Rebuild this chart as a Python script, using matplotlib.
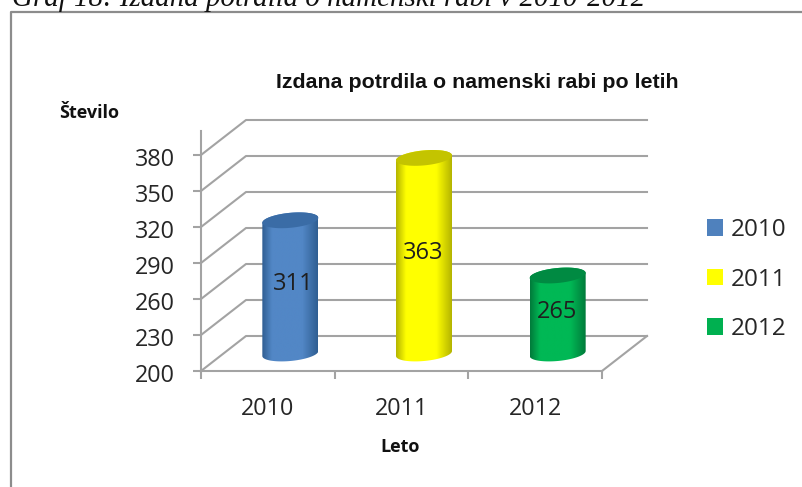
import matplotlib
matplotlib.use('Agg')
import matplotlib.pyplot as plt
from matplotlib.colors import LinearSegmentedColormap
from matplotlib.lines import Line2D
from matplotlib.patches import Patch, Polygon
from matplotlib.transforms import ScaledTranslation
import numpy as np

years = ['2010', '2011', '2012']
values = [311, 363, 265]
y_ticks = [200, 230, 260, 290, 320, 350, 380]
side_colors = ['#2F5E92', '#B4B400', '#007A3A']
mid_colors = ['#5287C6', '#FFFF00', '#00B855']
top_colors = ['#3A6CA6', '#C4C400', '#008A42']
legend_colors = ['#4F81BD', '#FFFF00', '#00B050']

W, H = 803, 487
GRID = '#A3A3A3'
TEXT = '#262626'

fig = plt.figure(figsize=(W / 100, H / 100), dpi=100)
ax = fig.add_axes([201 / W, (H - 371) / H, 401 / W, 240 / H])
ax.set_xlim(0, 3)
ax.set_ylim(200, 400)

# pixels to data units
def px_x(p):
    return p * 3 / 401
def px_y(p):
    return p * 200 / 240

depth_x = px_x(45)
depth_y = px_y(35)

# back wall and floor
for v in y_ticks:
    ax.plot([0, depth_x, 3 + depth_x], [v, v + depth_y, v + depth_y],
            color=GRID, lw=1.5, clip_on=False, zorder=1)
ax.plot([3, 3 + depth_x], [200, 200 + depth_y], color=GRID, lw=1.5, clip_on=False, zorder=1)

def ellipse(cx, cy, start, stop):
    t = np.linspace(start, stop, 60)
    xs = cx + px_x(28) * np.cos(t)
    ys = cy + px_y(7.5) * np.sin(t) + px_y(2.5) * np.cos(t)
    return np.column_stack([xs, ys])

for i, v in enumerate(values):
    cx = i + 0.5 + depth_x / 2
    base = 200 + depth_y / 2
    top = v + depth_y / 2
    outline = np.vstack([ellipse(cx, top, 0, np.pi), ellipse(cx, base, np.pi, 2 * np.pi)])
    body = Polygon(outline, closed=True, facecolor='none', edgecolor='none', transform=ax.transData)
    ax.add_patch(body)
    cmap = LinearSegmentedColormap.from_list('bar', [
        (0, side_colors[i]), (0.18, mid_colors[i]), (0.72, mid_colors[i]), (1, side_colors[i])])
    img = ax.imshow(np.linspace(0, 1, 256).reshape(1, -1), cmap=cmap, aspect='auto',
                    extent=[cx - px_x(28), cx + px_x(28), base - px_y(12), top + px_y(12)],
                    zorder=2, clip_on=True)
    img.set_clip_path(body)
    ax.add_patch(Polygon(ellipse(cx, top, 0, 2 * np.pi), closed=True, facecolor=top_colors[i],
                         edgecolor='none', zorder=3))
    # the 311 label sits a little right of its bar centre
    label_dx = 2.5 if i == 0 else -0.5
    ax.annotate(str(v), (cx, 200 + depth_y / 2 + (v - 200) / 2), xytext=(label_dx, 2),
                textcoords='offset points', ha='center', va='center',
                fontsize=17, color='#1F1F1F', family='Open Sans', zorder=4)

ax.set_xlim(0, 3)
ax.set_ylim(200, 400)

# axes
for side in ['top', 'right']:
    ax.spines[side].set_visible(False)
for side in ['left', 'bottom']:
    ax.spines[side].set_color(GRID)
    ax.spines[side].set_linewidth(1.5)
ax.patch.set_visible(False)
ax.set_yticks(y_ticks)
ax.set_yticklabels([str(v) for v in y_ticks], family='Open Sans', fontsize=16.8, color=TEXT)
ax.tick_params(axis='y', length=6, width=1.5, color=GRID, pad=13)
shift = ScaledTranslation(0, -2 / 100, fig.dpi_scale_trans)
for lab in ax.get_yticklabels():
    lab.set_transform(lab.get_transform() + shift)
ax.set_xticks([0, 1, 2, 3])
ax.set_xticklabels([])
ax.set_xticks([0.5, 1.5, 2.5], minor=True)
ax.set_xticklabels(years, minor=True, family='Open Sans', fontsize=16.8, color=TEXT)
ax.tick_params(axis='x', which='major', length=6, width=1.5, color=GRID)
ax.tick_params(axis='x', which='minor', length=0, pad=19)

def fig_text(x, y, s, **kw):
    fig.text(x / W, 1 - y / H, s, **kw)

fig_text(477.5, 82.5, 'Izdana potrdila o namenski rabi po letih', ha='center', va='center',
         family='Liberation Sans', fontweight='bold', fontsize=15.4, color='#111111')
fig_text(89.5, 113.5, 'Število', ha='center', va='center', family='Open Sans',
         fontweight='bold', fontsize=13, color='#111111')
fig_text(400.5, 446.5, 'Leto', ha='center', va='center', family='Open Sans',
         fontweight='bold', fontsize=13, color='#111111')
fig_text(12, 6.5, 'Graf 18: Izdana potrdila o namenski rabi v 2010-2012', ha='left', va='baseline',
         family='Liberation Serif', style='italic', fontsize=20.9, color='#111111')

handles = [Patch(facecolor=c, edgecolor='none') for c in legend_colors]
fig.legend(handles, years, loc='center left', bbox_to_anchor=(707 / W, 1 - 279.5 / H),
           frameon=False, prop={'family': 'Open Sans', 'size': 17.5}, labelcolor=TEXT,
           handlelength=0.66, handleheight=0.66, handletextpad=0.3, labelspacing=1.05,
           borderpad=0, borderaxespad=0)

# outer frame, left and top only
fig.add_artist(Line2D([11.5 / W, 11.5 / W, 1], [0, 1 - 11.5 / H, 1 - 11.5 / H],
                      color='#8C8C8C', lw=1.6, transform=fig.transFigure))

fig.savefig('out.png', dpi=100)
